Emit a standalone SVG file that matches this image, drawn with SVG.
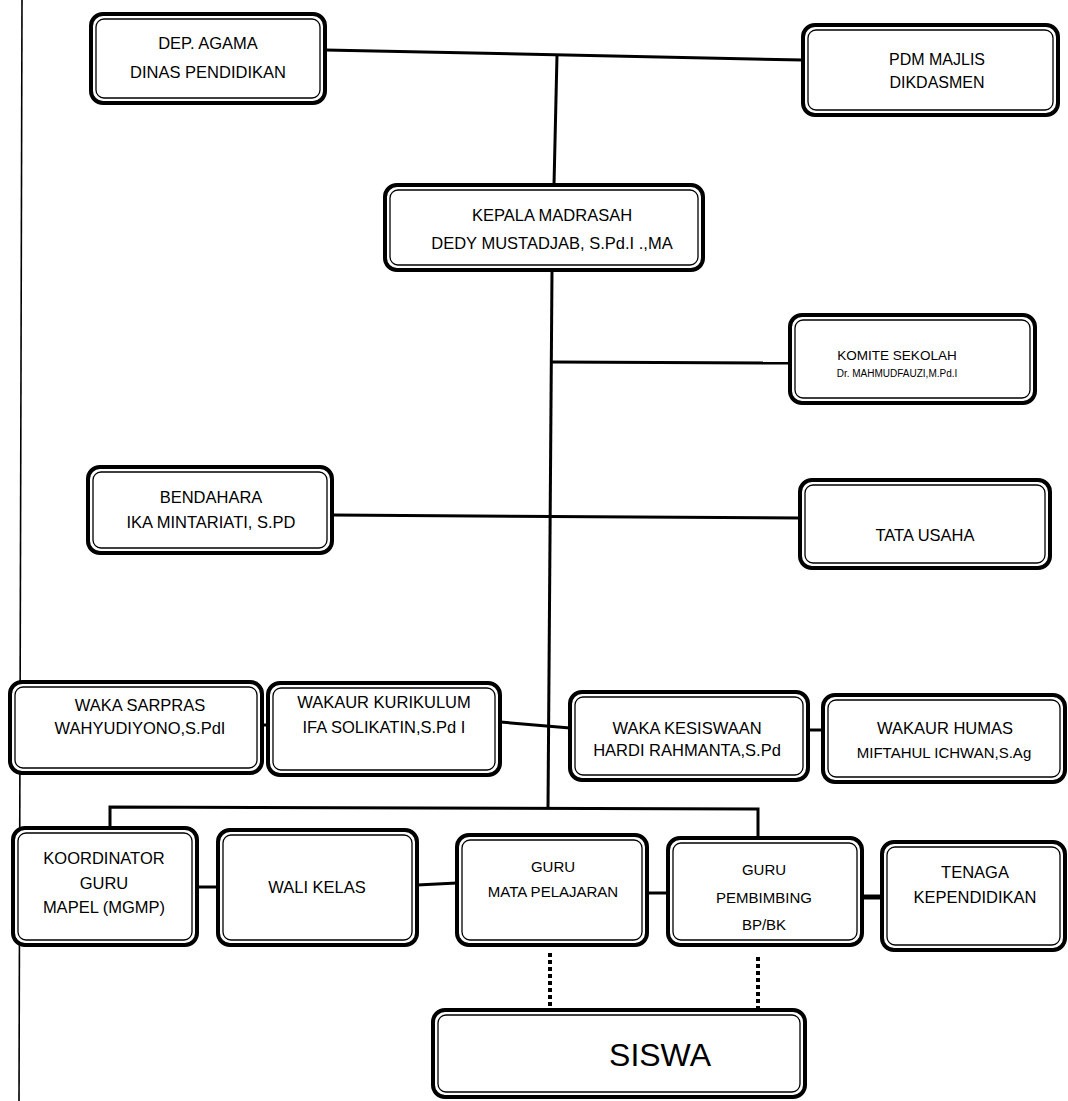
<svg xmlns="http://www.w3.org/2000/svg" width="1068" height="1101" viewBox="0 0 1068 1101">
<style>
.o{fill:#fff;stroke:#000;stroke-width:4}
.i{fill:none;stroke:#000;stroke-width:1.3}
text{font-family:"Liberation Sans",Arial,sans-serif;font-size:16.5px;fill:#000;text-anchor:middle}
.s{font-size:15px}
.c{fill:none;stroke:#000;stroke-width:3}
.d{fill:none;stroke:#000;stroke-width:4;stroke-dasharray:4 3}
</style>
<rect width="1068" height="1101" fill="#fff"/>
<g id="connectors">
<line class="c" x1="22" y1="0" x2="19" y2="1101" style="stroke-width:1.6"/>
<line class="c" x1="325" y1="50" x2="803" y2="60"/>
<line class="c" x1="557" y1="55" x2="554" y2="185"/>
<line class="c" x1="552" y1="270" x2="548" y2="808"/>
<line class="c" x1="552" y1="362" x2="790" y2="363"/>
<line class="c" x1="332" y1="515" x2="800" y2="518"/>
<line class="c" x1="262" y1="725" x2="268" y2="725"/>
<line class="c" x1="500" y1="722" x2="570" y2="728"/>
<line class="c" x1="808" y1="730" x2="823" y2="730"/>
<polyline class="c" points="110,828 110,807 758,809 758,838"/>
<line class="c" x1="197" y1="887" x2="218" y2="887"/>
<line class="c" x1="417" y1="885" x2="457" y2="883"/>
<line class="c" x1="647" y1="893" x2="668" y2="893"/>
<line class="c" x1="862" y1="897" x2="882" y2="897" style="stroke-width:5"/>
<line class="d" x1="550" y1="953" x2="550" y2="1010"/>
<line class="d" x1="758" y1="957" x2="758" y2="1010"/>
</g>
<g id="dep-agama">
<rect class="o" x="91" y="14" width="234" height="89" rx="12"/>
<rect class="i" x="96" y="19" width="224" height="79" rx="8"/>
<text x="208" y="49">DEP. AGAMA</text>
<text x="208" y="78">DINAS PENDIDIKAN</text>
</g>
<g id="pdm">
<rect class="o" x="803" y="25" width="255" height="90" rx="12"/>
<rect class="i" x="808" y="30" width="245" height="80" rx="8"/>
<text x="937" y="65" style="font-size:16px">PDM MAJLIS</text>
<text x="937" y="88" style="font-size:16px">DIKDASMEN</text>
</g>
<g id="kepala">
<rect class="o" x="385" y="185" width="318" height="85" rx="12"/>
<rect class="i" x="390" y="190" width="308" height="75" rx="8"/>
<text x="552" y="221">KEPALA MADRASAH</text>
<text x="552" y="249">DEDY MUSTADJAB, S.Pd.I .,MA</text>
</g>
<g id="komite">
<rect class="o" x="790" y="315" width="245" height="88" rx="12"/>
<rect class="i" x="795" y="320" width="235" height="78" rx="8"/>
<text x="897" y="360" style="font-size:13.5px">KOMITE SEKOLAH</text>
<text x="897" y="377" style="font-size:10px">Dr. MAHMUDFAUZI,M.Pd.I</text>
</g>
<g id="bendahara">
<rect class="o" x="88" y="467" width="244" height="86" rx="12"/>
<rect class="i" x="93" y="472" width="234" height="76" rx="8"/>
<text x="211" y="503">BENDAHARA</text>
<text x="211" y="528">IKA MINTARIATI, S.PD</text>
</g>
<g id="tata-usaha">
<rect class="o" x="800" y="480" width="250" height="88" rx="12"/>
<rect class="i" x="805" y="485" width="240" height="78" rx="8"/>
<text x="925" y="541">TATA USAHA</text>
</g>
<g id="waka-sarpras">
<rect class="o" x="10" y="682" width="252" height="91" rx="12"/>
<rect class="i" x="15" y="687" width="242" height="81" rx="8"/>
<text x="140" y="711">WAKA SARPRAS</text>
<text x="140" y="734">WAHYUDIYONO,S.PdI</text>
</g>
<g id="wakaur-kurikulum">
<rect class="o" x="268" y="683" width="232" height="92" rx="12"/>
<rect class="i" x="273" y="688" width="222" height="82" rx="8"/>
<text x="384" y="708">WAKAUR KURIKULUM</text>
<text x="384" y="733">IFA SOLIKATIN,S.Pd I</text>
</g>
<g id="waka-kesiswaan">
<rect class="o" x="570" y="692" width="238" height="88" rx="12"/>
<rect class="i" x="575" y="697" width="228" height="78" rx="8"/>
<text x="687" y="734">WAKA KESISWAAN</text>
<text x="687" y="756">HARDI RAHMANTA,S.Pd</text>
</g>
<g id="wakaur-humas">
<rect class="o" x="823" y="695" width="242" height="87" rx="12"/>
<rect class="i" x="828" y="700" width="232" height="77" rx="8"/>
<text x="945" y="734">WAKAUR HUMAS</text>
<text x="944" y="758" class="s">MIFTAHUL ICHWAN,S.Ag</text>
</g>
<g id="koordinator">
<rect class="o" x="13" y="828" width="184" height="117" rx="12"/>
<rect class="i" x="18" y="833" width="174" height="107" rx="8"/>
<text x="104" y="864">KOORDINATOR</text>
<text x="104" y="889">GURU</text>
<text x="104" y="913">MAPEL (MGMP)</text>
</g>
<g id="wali-kelas">
<rect class="o" x="218" y="830" width="199" height="115" rx="12"/>
<rect class="i" x="223" y="835" width="189" height="105" rx="8"/>
<text x="317" y="893">WALI KELAS</text>
</g>
<g id="guru-mapel">
<rect class="o" x="457" y="835" width="190" height="110" rx="12"/>
<rect class="i" x="462" y="840" width="180" height="100" rx="8"/>
<text x="553" y="872" class="s">GURU</text>
<text x="553" y="897" class="s">MATA PELAJARAN</text>
</g>
<g id="guru-bk">
<rect class="o" x="668" y="838" width="194" height="107" rx="12"/>
<rect class="i" x="673" y="843" width="184" height="97" rx="8"/>
<text x="764" y="875" class="s">GURU</text>
<text x="764" y="903" class="s">PEMBIMBING</text>
<text x="764" y="930" class="s">BP/BK</text>
</g>
<g id="tenaga">
<rect class="o" x="882" y="842" width="183" height="108" rx="12"/>
<rect class="i" x="887" y="847" width="173" height="98" rx="8"/>
<text x="975" y="878">TENAGA</text>
<text x="975" y="903">KEPENDIDIKAN</text>
</g>
<g id="siswa">
<rect class="o" x="433" y="1010" width="372" height="87" rx="12"/>
<rect class="i" x="438" y="1015" width="362" height="77" rx="8"/>
<text x="660" y="1066" style="font-size:32px">SISWA</text>
</g>
</svg>
